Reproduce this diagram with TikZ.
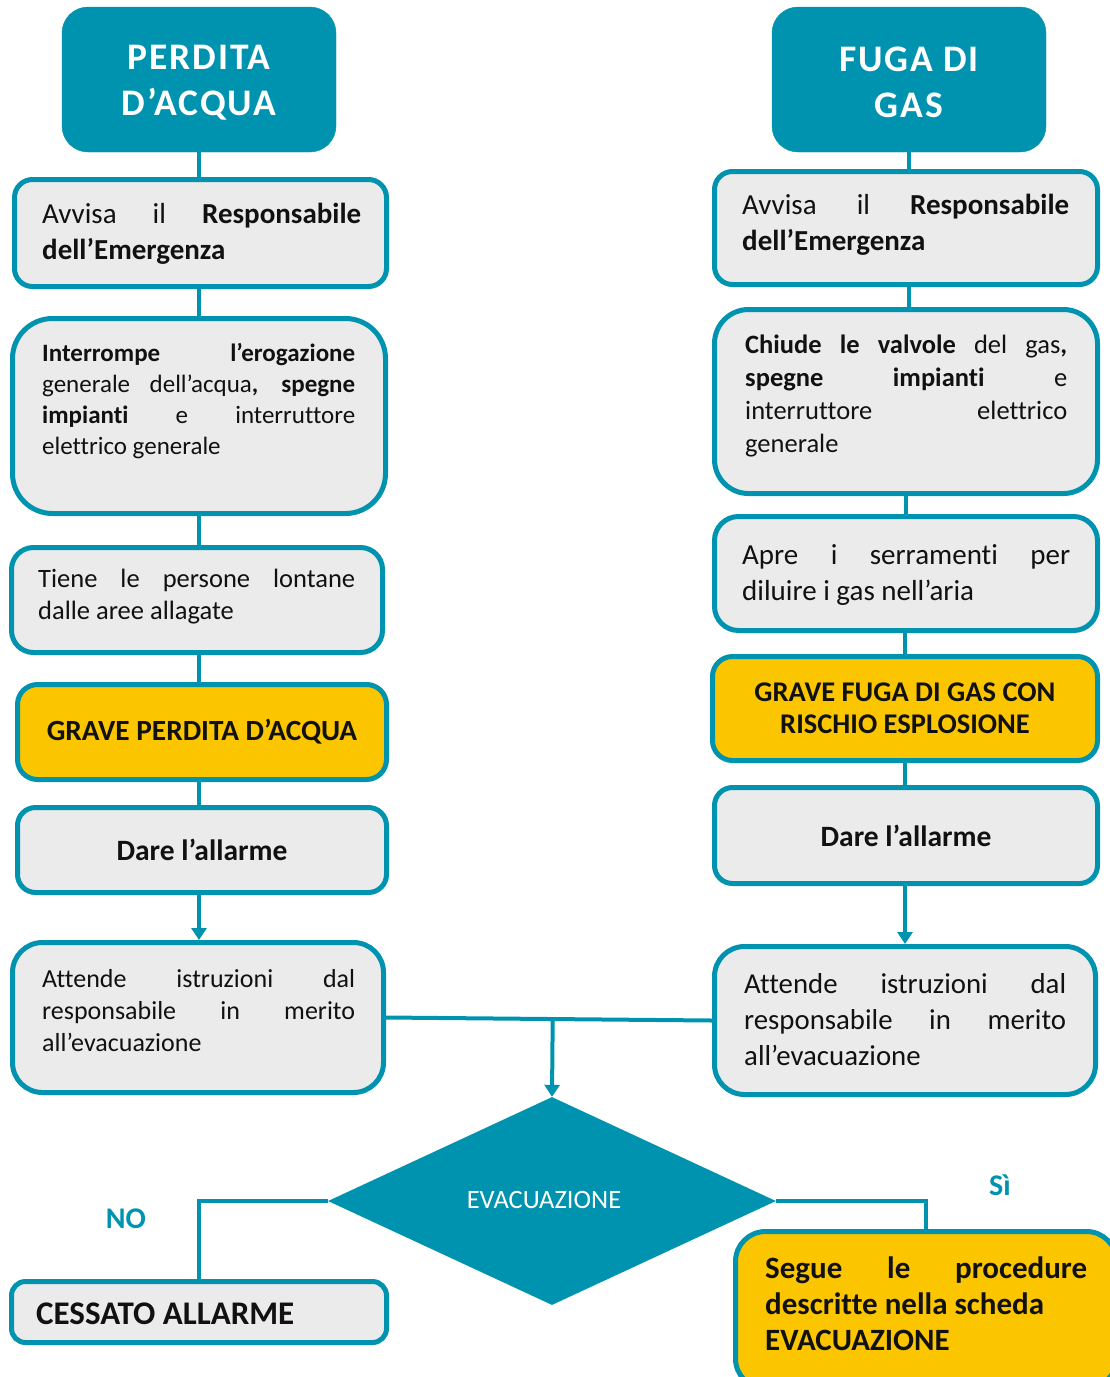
\documentclass[tikz,border=0pt]{standalone}
\usepackage{fontspec}
\setmainfont{Carlito}[Ligatures={TeX,NoCommon}]
\newfontfamily\headfont{Carlito}[LetterSpace=5,Ligatures={TeX,NoCommon}]
\usetikzlibrary{shapes.geometric,arrows.meta,calc}
\definecolor{petrol}{HTML}{0093AF}
\definecolor{boxgray}{HTML}{EBEBEB}
\definecolor{alertyellow}{HTML}{FBC600}
\definecolor{ink}{HTML}{111111}
% one justified line of a given width
\newcommand\jline[2]{\makebox[#1][s]{#2}}
\newcommand\fs[2]{\fontsize{#1}{#2}\selectfont}

\begin{document}
\begin{tikzpicture}[x=1pt,y=-1pt,
  box/.style={draw=petrol, line width=5pt, fill=boxgray, rounded corners=#1,
              inner sep=0pt, text=ink},
  box/.default=18pt,
  warn/.style={box=#1, fill=alertyellow},
  warn/.default=20pt,
  head/.style={fill=petrol, draw=petrol, rounded corners=26pt, inner sep=0pt,
               text=white, align=center, font=\headfont\bfseries\fs{37.5}{46},
               minimum width=274pt, minimum height=145pt},
  headtext/.style={text=white, align=center, inner sep=0pt,
               font=\headfont\bfseries\fs{37.5}{46}},
  txt/.style={inner sep=0pt, anchor=west, align=left, text=ink},
  link/.style={draw=petrol, line width=4pt},
  arrow/.style={link, -{Triangle[length=12pt,width=15pt]}},
  tag/.style={text=petrol, font=\bfseries\fs{30}{36}, inner sep=0pt},
]
\useasboundingbox (0,0) rectangle (1110,1377);
\clip (0,0) rectangle (1110,1377);

% ---------- water leak column ----------
\node[head] (LH) at (199,79.5) {};
\node[headtext] (LHt) at (199,83) {PERDITA\\D’ACQUA};

\node[box, minimum width=372pt, minimum height=107pt] (L1) at (200.5,233) {};
\node[txt, font=\fs{29}{36}] (L1t) at (42,234)
  {\jline{319pt}{Avvisa il \textbf{Responsabile}}\\\textbf{dell’Emergenza}};

\node[box=40pt, minimum width=373pt, minimum height=195pt] (L2) at (199,416) {};
\node[txt, font=\fs{25}{31}] (L2t) at (42,401.5)
  {\jline{313pt}{\textbf{Interrompe} \textbf{l’erogazione}}\\\jline{313pt}{generale dell’acqua\textbf{,} \textbf{spegne}}\\\jline{313pt}{\textbf{impianti} e interruttore}\\elettrico generale};

\node[box=22pt, minimum width=371pt, minimum height=105pt] (L3) at (197,600) {};
\node[txt, font=\fs{26.5}{32}] (L3t) at (38,597)
  {\jline{317pt}{Tiene le persone lontane}\\dalle aree allagate};

\node[warn, minimum width=369pt, minimum height=95pt,
      font=\bfseries\fs{29.3}{34}] (L4) at (202,732) {GRAVE PERDITA D’ACQUA};

\node[box, minimum width=369pt, minimum height=85pt,
      font=\bfseries\fs{29.5}{36}] (L5) at (202,850) {Dare l’allarme};

\node[box=30pt, minimum width=371pt, minimum height=150pt] (L6) at (198,1017.5) {};
\node[txt, font=\fs{26}{32}] (L6t) at (42,1011)
  {\jline{313pt}{Attende istruzioni dal}\\\jline{313pt}{responsabile in merito}\\all’evacuazione};

% ---------- gas leak column ----------
\node[head] (RH) at (909,79.5) {};
\node[headtext] (RHt) at (909,82) {FUGA DI\\GAS};

\node[box, minimum width=383pt, minimum height=113pt] (R1) at (906,228) {};
\node[txt, font=\fs{29}{36}] (R1t) at (742,225)
  {\jline{327pt}{Avvisa il \textbf{Responsabile}}\\\textbf{dell’Emergenza}};

\node[box=34pt, minimum width=383pt, minimum height=184pt] (R2) at (906,401.5) {};
\node[txt, font=\fs{26.5}{33}] (R2t) at (745,396)
  {\jline{322pt}{\textbf{Chiude le valvole} del gas\textbf{,}}\\\jline{322pt}{\textbf{spegne} \textbf{impianti} e}\\\jline{322pt}{interruttore elettrico}\\generale};

\node[box=24pt, minimum width=383pt, minimum height=114pt] (R3) at (906,573.5) {};
\node[txt, font=\fs{29}{36}] (R3t) at (742,575)
  {\jline{328pt}{Apre i serramenti per}\\diluire i gas nell’aria};

\node[warn, minimum width=385pt, minimum height=104pt, align=center,
      font=\bfseries\fs{28.5}{32}] (R4) at (905,708.5)
  {GRAVE FUGA DI GAS CON\\RISCHIO ESPLOSIONE};

\node[box, minimum width=383pt, minimum height=96pt,
      font=\bfseries\fs{29.5}{36}] (R5) at (906,835.5) {Dare l’allarme};

\node[box=30pt, minimum width=381pt, minimum height=148pt] (R6) at (905,1020.5) {};
\node[txt, font=\fs{28.8}{36}] (R6t) at (744,1020)
  {\jline{322pt}{Attende istruzioni dal}\\\jline{322pt}{responsabile in merito}\\all’evacuazione};

% ---------- decision ----------
\node[shape=diamond, fill=petrol, draw=none, inner sep=0pt,
      minimum width=448pt, minimum height=208pt] (dia) at (552,1201) {};
\node[text=white, font=\fs{26.5}{30}, inner sep=0pt] (diat) at (544,1200) {EVACUAZIONE};

\node[box=14pt, minimum width=375pt, minimum height=61pt] (CE) at (199,1312) {};
\node[txt, font=\bfseries\fs{33}{36}] (CEt) at (36,1314) {CESSATO ALLARME};

\node[warn=30pt, minimum width=381pt, minimum height=157pt] (SG) at (926,1310) {};
\node[txt, font=\bfseries\fs{31}{36}] (SGt) at (765,1304)
  {\jline{322pt}{Segue le procedure}\\descritte nella scheda\\EVACUAZIONE};

\node[tag] (no) at (126,1219) {NO};
\node[tag] (si) at (1000,1185) {Sì};

% ---------- connectors ----------
\draw[link] (LH.south) -- (LH.south |- L1.north);
\draw[link] (LH.south |- L1.south) -- (LH.south |- L2.north);
\draw[link] (LH.south |- L2.south) -- (LH.south |- L3.north);
\draw[link] (LH.south |- L3.south) -- (LH.south |- L4.north);
\draw[link] (LH.south |- L4.south) -- (LH.south |- L5.north);
\draw[arrow] (LH.south |- L5.south) -- (LH.south |- L6.north);

\draw[link] (RH.south) -- (RH.south |- R1.north);
\draw[link] (RH.south |- R1.south) -- (RH.south |- R2.north);
\draw[link] (R3.north) -- (R3.north |- R2.south);
\draw[link] (R4.north) -- (R4.north |- R3.south);
\draw[link] (R4.south) -- (R4.south |- R5.north);
\draw[arrow] (R6.north |- R5.south) -- (R6.north);

\draw[link] (L6.east) -- (R6.west);
\coordinate (jn) at ($(L6.east)!(dia.north)!(R6.west)$);
\draw[arrow] (jn) -- (dia.north);
\draw[link] (dia.west) -| (CE.north);
\draw[link] (dia.east) -| (SG.north);
\end{tikzpicture}
\end{document}
